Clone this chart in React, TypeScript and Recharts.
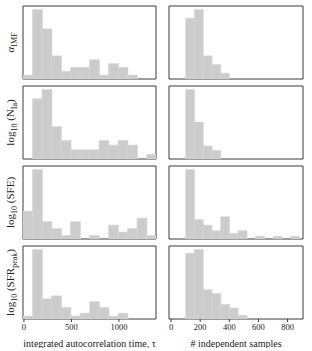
import React from 'react';
import { Bar, BarChart, ReferenceArea, XAxis, YAxis } from 'recharts';

// bin centres (integrated autocorrelation time, tau) and (# independent samples)
const TAU_BINS = [40, 140, 240, 340, 440, 540, 640, 740, 840, 940, 1040, 1140, 1240, 1340];
const NSAMP_BINS = [130, 190, 250, 310, 370, 430, 490, 550, 610, 670, 730, 790, 850];
const TAU_TICKS = [0, 500, 1000];
const NSAMP_TICKS = [0, 200, 400, 600, 800];

// counts per bin, one array per parameter
const tauAlphaImf = [1, 18, 13, 6, 2, 3, 3, 5, 1, 4, 3, 1, 0, 0];
const tauNIa = [0, 13, 15, 7, 4, 2, 2, 2, 4, 3, 4, 3, 0, 1];
const tauSfe = [8, 20, 5, 3, 1, 5, 0, 1, 0, 4, 2, 3, 6, 1];
const tauSfrPeak = [1, 24, 7, 8, 4, 1, 2, 6, 4, 1, 2, 0, 0, 0];

const nAlphaImf = [21, 24, 8, 5, 2, 0, 0, 0, 0, 0, 0, 0, 0];
const nNIa = [32, 17, 6, 4, 0, 0, 0, 0, 0, 0, 0, 0, 0];
const nSfe = [25, 7, 5, 3, 8, 2, 3, 0, 1, 0, 1, 0, 1];
const nSfrPeak = [18, 19, 8, 7, 4, 3, 1, 0, 0, 0, 0, 0, 0];

const SERIF = '"Liberation Serif", "DejaVu Serif", serif';
const FRAME = '#3a3a3a';
const BAR_FILL = '#cccccc';
const ROW_TOPS = [6, 86, 166, 246];
const PLOT_H = 73;

function PanelLabel({ viewBox, children }: any) {
  const vb = viewBox || {};
  const cx = 14;
  const cy = (vb.y ?? 0) + (vb.height ?? PLOT_H) / 2;
  return (
    <text
      x={cx}
      y={cy}
      transform={`rotate(-90 ${cx} ${cy})`}
      textAnchor="middle"
      fontFamily={SERIF}
      fontSize={11}
      fill="#222"
    >
      {children}
    </text>
  );
}

// subscript: drop by dy, then return to the baseline for what follows
const sub = (s: string, after: string) => (
  <>
    <tspan dy={2.5} fontSize={8}>
      {s}
    </tspan>
    <tspan dy={-2.5}>{after}</tspan>
  </>
);

const LABELS = [
  <>
    <tspan fontStyle="italic">α</tspan>
    {sub('IMF', '')}
  </>,
  <>
    <tspan>log</tspan>
    {sub('10', ' (N')}
    {sub('Ia', ')')}
  </>,
  <>
    <tspan>log</tspan>
    {sub('10', ' (SFE)')}
  </>,
  <>
    <tspan>log</tspan>
    {sub('10', ' (SFR')}
    {sub('peak', ')')}
  </>,
];

interface PanelProps {
  bins: number[];
  counts: number[];
  domain: [number, number];
  ticks: number[];
  left: number;
  top: number;
  yAxisWidth: number;
  plotWidth: number;
  bottom: boolean;
  xLabel?: React.ReactNode;
  yLabel?: React.ReactNode;
}

function HistPanel({ bins, counts, domain, ticks, left, top, yAxisWidth, plotWidth, bottom, xLabel, yLabel }: PanelProps) {
  const data = bins.map((x, i) => ({ x, count: counts[i] }));
  const yMax = Math.max(...counts) * 1.05;
  const xAxisHeight = bottom ? 28 : 0;
  const width = yAxisWidth + plotWidth + 2;
  const height = PLOT_H + xAxisHeight + 2;
  return (
    <div style={{ position: 'absolute', left: left - yAxisWidth - 1, top: top - 1 }}>
      <BarChart
        width={width}
        height={height}
        data={data}
        margin={{ top: 1, right: 1, bottom: 1, left: 1 }}
        barCategoryGap={0}
        barGap={0}
      >
        <XAxis
          dataKey="x"
          type="number"
          domain={domain}
          ticks={ticks}
          allowDataOverflow
          hide={!bottom}
          height={xAxisHeight}
          axisLine={false}
          tickLine={{ stroke: FRAME }}
          tickSize={3}
          tick={{ fontSize: 8.5, fontFamily: SERIF, fill: '#222' }}
          label={
            bottom && xLabel
              ? { value: xLabel as any, position: 'insideBottom', offset: 0, fontSize: 10, fontFamily: SERIF, fill: '#222' }
              : undefined
          }
        />
        <YAxis
          type="number"
          domain={[0, yMax]}
          allowDataOverflow
          hide={yAxisWidth === 0}
          width={yAxisWidth}
          tick={false}
          tickLine={false}
          axisLine={false}
          label={yLabel ? <PanelLabel>{yLabel}</PanelLabel> : undefined}
        />
        <Bar dataKey="count" fill={BAR_FILL} stroke="#d6d6d6" strokeWidth={0.6} isAnimationActive={false} />
        <ReferenceArea
          x1={domain[0]}
          x2={domain[1]}
          y1={0}
          y2={yMax}
          fill="none"
          stroke={FRAME}
          strokeWidth={1}
          ifOverflow="visible"
        />
      </BarChart>
    </div>
  );
}

export default function App() {
  const tauSets = [tauAlphaImf, tauNIa, tauSfe, tauSfrPeak];
  const nSets = [nAlphaImf, nNIa, nSfe, nSfrPeak];
  return (
    <div style={{ position: 'absolute', left: 0, top: 0, width: 312, height: 351, background: '#fff' }}>
      {tauSets.map((counts, r) => (
        <HistPanel
          key={`tau-${r}`}
          bins={TAU_BINS}
          counts={counts}
          domain={[-10, 1390]}
          ticks={TAU_TICKS}
          left={23}
          top={ROW_TOPS[r]}
          yAxisWidth={22}
          plotWidth={133}
          bottom={r === 3}
          xLabel="integrated autocorrelation time, τ"
          yLabel={LABELS[r]}
        />
      ))}
      {nSets.map((counts, r) => (
        <HistPanel
          key={`n-${r}`}
          bins={NSAMP_BINS}
          counts={counts}
          domain={[-14, 906]}
          ticks={NSAMP_TICKS}
          left={169}
          top={ROW_TOPS[r]}
          yAxisWidth={0}
          plotWidth={134}
          bottom={r === 3}
          xLabel="# independent samples"
        />
      ))}
    </div>
  );
}
